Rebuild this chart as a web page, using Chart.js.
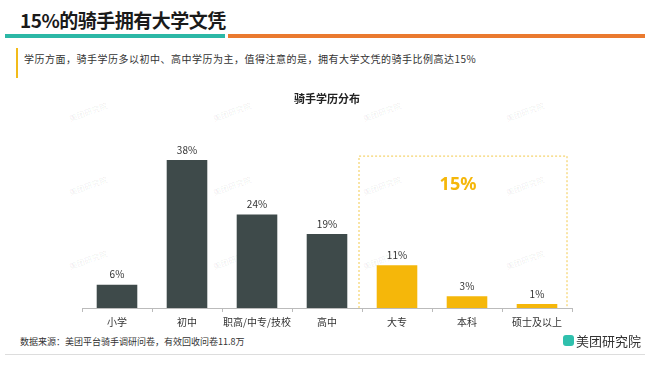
<!DOCTYPE html>
<html>
<head>
<meta charset="utf-8">
<script src="https://cdn.jsdelivr.net/npm/chart.js@4.4.0/dist/chart.umd.min.js"></script>
<style>
  html, body { margin: 0; padding: 0; background: #fff; }
  body { width: 650px; height: 366px; position: relative; overflow: hidden;
         font-family: "Noto Sans CJK SC", "Noto Sans", sans-serif; color: #222; }
  .title { position: absolute; left: 20px; top: 6px; font-size: 19px; font-weight: bold; color: #1a1a1a; letter-spacing: -0.5px; }
  .bar-teal { position: absolute; left: 5px; top: 34px; width: 220px; height: 4px; background: #2cb8a6; }
  .bar-orange { position: absolute; left: 228px; top: 34px; width: 417px; height: 4px; background: #ea7a2f; }
  .note-line { position: absolute; left: 16px; top: 48px; width: 2px; height: 30px; background: #f2bb1a; }
  .note { position: absolute; left: 24px; top: 51px; font-size: 10px; color: #333; letter-spacing: 0.5px; }
  .source { position: absolute; left: 20px; top: 335px; font-size: 9px; color: #333; }
  .logo { position: absolute; right: 9px; top: 331px; font-size: 13px; color: #333; display: flex; align-items: center; }
  .logo i { display: inline-block; width: 11px; height: 11px; border-radius: 3px; background: #2fc0ad; margin-right: 2px; }
  .footline { position: absolute; left: 5px; top: 354px; width: 640px; height: 1px; background: #ddd; }
  .wm { position: absolute; font-size: 8px; color: rgba(0,0,0,0.08); transform: rotate(-20deg); white-space: nowrap; }
  #wrap { position: absolute; left: 0; top: 86px; width: 650px; height: 246px; }
</style>
</head>
<body>
<div class="title">15%的骑手拥有大学文凭</div>
<div class="bar-teal"></div>
<div class="bar-orange"></div>
<div class="note-line"></div>
<div class="note">学历方面，骑手学历多以初中、高中学历为主，值得注意的是，拥有大学文凭的骑手比例高达15%</div>
<div id="marks"></div>
<div id="wrap"><canvas id="chart"></canvas></div>
<div class="source">数据来源：美团平台骑手调研问卷，有效回收问卷11.8万</div>
<div class="logo"><i></i>美团研究院</div>
<div class="footline"></div>
<script>
'use strict';

const categories = ['小学', '初中', '职高/中专/技校', '高中', '大专', '本科', '硕士及以上'];
const shares     = [6, 38, 24, 19, 11, 3, 1];
const barColors  = ['#3e4a4a', '#3e4a4a', '#3e4a4a', '#3e4a4a', '#f5b70a', '#f5b70a', '#f5b70a'];
const collegeFrom  = 4;   // first college category index
const collegeTotal = '15%';

// faint watermark text behind the chart
const marksEl = document.getElementById('marks');
[68, 212, 362, 505].forEach(l => [106, 180, 254].forEach(t => {
    const d = document.createElement('div');
    d.className = 'wm'; d.textContent = '美团研究院';
    d.style.left = l + 'px'; d.style.top = t + 'px';
    marksEl.appendChild(d);
}));

/* value labels above bars + dashed box round the college group */
const extras = {
    id: 'extras',
    afterDatasetsDraw(chart) {
        const { ctx, scales: { x, y } } = chart;
        const meta = chart.getDatasetMeta(0);
        ctx.save();
        ctx.font = '10px "Noto Sans CJK SC", sans-serif';
        ctx.fillStyle = '#333';
        ctx.textAlign = 'center';
        ctx.textBaseline = 'bottom';
        meta.data.forEach((bar, i) => ctx.fillText(shares[i] + '%', bar.x, bar.y - 5));

        const half = (x.getPixelForValue(1) - x.getPixelForValue(0)) / 2;
        const left  = x.getPixelForValue(collegeFrom) - half - 3;
        const right = x.getPixelForValue(categories.length - 1) + half - 5;
        const top = y.getPixelForValue(39);
        const bottom = y.getPixelForValue(0);
        ctx.strokeStyle = '#f2c94c';
        ctx.lineWidth = 1;
        ctx.setLineDash([2, 2]);
        ctx.beginPath();
        ctx.moveTo(left, bottom); ctx.lineTo(left, top);
        ctx.lineTo(right, top); ctx.lineTo(right, bottom);
        ctx.stroke();
        ctx.setLineDash([]);

        ctx.font = 'bold 18px "Noto Sans", sans-serif';
        ctx.fillStyle = '#f5b70a';
        ctx.textBaseline = 'middle';
        ctx.fillText(collegeTotal, (left + right) / 2 - 5, y.getPixelForValue(31.5));
        ctx.restore();
    }
};

new Chart(document.getElementById('chart'), {
    type: 'bar',
    data: {
        labels: categories,
        datasets: [{ data: shares, backgroundColor: barColors, categoryPercentage: 1, barPercentage: 0.58 }]
    },
    options: {
        responsive: true, maintainAspectRatio: false, animation: false,
        layout: { padding: { left: 82, right: 78, top: 0, bottom: 0 } },
        plugins: {
            legend: { display: false },
            tooltip: { enabled: false },
            title: { display: true, text: '骑手学历分布', color: '#222',
                     font: { size: 11, weight: 'bold', family: '"Noto Sans CJK SC", sans-serif' },
                     padding: { top: 6, bottom: 47 } }
        },
        scales: {
            x: {
                grid: { display: true, drawOnChartArea: false, offset: true, tickLength: 4, color: '#bbb' },
                border: { color: '#bbb' },
                ticks: { color: '#333', font: { size: 10, family: '"Noto Sans CJK SC", sans-serif' },
                         padding: 4, maxRotation: 0, minRotation: 0, autoSkip: false }
            },
            y: { display: false, min: 0, max: 40 }
        }
    },
    plugins: [extras]
});
</script>
</body>
</html>
